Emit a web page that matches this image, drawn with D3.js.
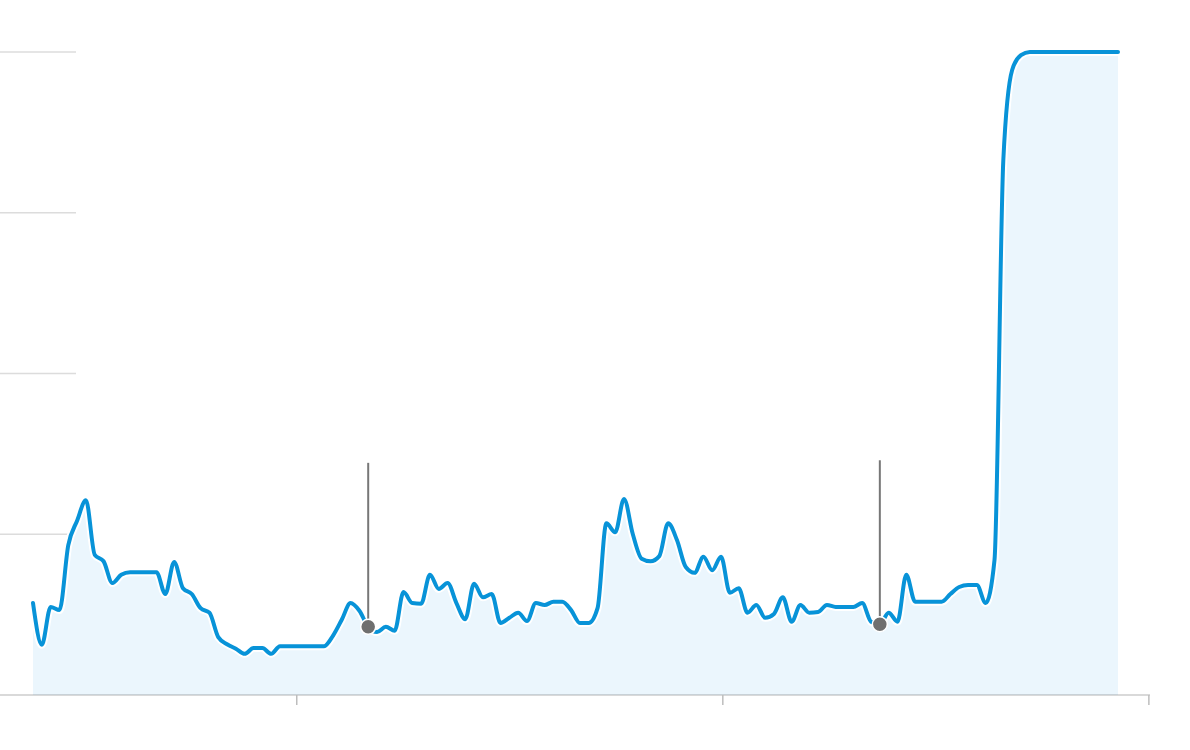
<!DOCTYPE html>
<html>
<head>
<meta charset="utf-8">
<script src="https://cdn.jsdelivr.net/npm/d3@7"></script>
<style>
  html, body { margin: 0; padding: 0; background: #fff; }
</style>
</head>
<body>
<div id="dataviz_interes"></div>
<script>

// ━━━━━━━━━━━━━━━━━━━━━━━━━━━━━━━━━━━━━━━━━━━━━━━━━━━━━━━━━━━━━━━━━━━━━━━━━━━━━━
// Datos ////////////////////////////////////////////////////////////////////////
// ━━━━━━━━━━━━━━━━━━━━━━━━━━━━━━━━━━━━━━━━━━━━━━━━━━━━━━━━━━━━━━━━━━━━━━━━━━━━━━

// interés relativo (0-100), un valor por período
const interes = [
  14.3, 7.8, 13.7, 13.2, 23.3, 27.1, 30.3, 21.8, 20.8, 17.4,
  18.7, 19.1, 19.1, 19.1, 19.1, 15.7, 20.7, 16.6, 15.7, 13.5,
  12.8, 9.0, 7.9, 7.2, 6.4, 7.3, 7.3, 6.4, 7.6, 7.6,
  7.6, 7.6, 7.6, 7.6, 9.2, 11.7, 14.3, 13.1, 10.6, 9.8,
  10.6, 10.0, 16.0, 14.3, 14.2, 18.7, 16.5, 17.4, 14.3, 11.8,
  17.3, 15.2, 15.7, 11.2, 12.0, 12.8, 11.5, 14.3, 14.0, 14.5,
  14.5, 13.2, 11.2, 11.2, 13.5, 26.7, 25.3, 30.5, 25.0, 21.2,
  20.8, 21.6, 26.7, 24.1, 19.9, 19.0, 21.5, 19.4, 21.5, 15.9,
  16.6, 12.8, 14.0, 12.0, 12.6, 15.2, 11.4, 14.0, 12.8, 12.9,
  14.0, 13.7, 13.7, 13.7, 14.3, 11.4, 11.0, 12.8, 11.4, 18.7,
  14.5, 14.5, 14.5, 14.5, 15.7, 16.8, 17.1, 17.1, 14.3, 21.0,
  83.2, 97.2, 99.5, 100, 100, 100, 100, 100, 100, 100,
  100, 100, 100, 100
];

const y_ticks = [25, 50, 75, 100];
const x_ticks = [29.9, 78.2, 126.5];   // posiciones (en períodos) de las marcas del eje
const notas = [38, 96];                // períodos con nota

const data = interes.map((v, i) => ({ i, v }));

// ━━━━━━━━━━━━━━━━━━━━━━━━━━━━━━━━━━━━━━━━━━━━━━━━━━━━━━━━━━━━━━━━━━━━━━━━━━━━━━
// SVG setup ////////////////////////////////////////////////////////////////////
// ━━━━━━━━━━━━━━━━━━━━━━━━━━━━━━━━━━━━━━━━━━━━━━━━━━━━━━━━━━━━━━━━━━━━━━━━━━━━━━

const width = 1190, height = 750;

const svg = d3.select('#dataviz_interes').append('svg')
  .attr('xmlns', 'http://www.w3.org/2000/svg')
  .attr('viewBox', [0, 0, width, height])
  .attr('width', width)
  .attr('height', height);

const     grid = svg.append('g').attr('id', 'grilla');
const     area = svg.append('g').attr('id', 'area');
const     axis = svg.append('g').attr('id', 'eje-x');
const    linea = svg.append('g').attr('id', 'linea');
const notas_g  = svg.append('g').attr('id', 'notas');

const x = d3.scaleLinear().domain([0, interes.length - 1]).range([33, 1118]);
const y = d3.scaleLinear().domain([0, 100]).range([695, 52]);

// ━━━━━━━━━━━━━━━━━━━━━━━━━━━━━━━━━━━━━━━━━━━━━━━━━━━━━━━━━━━━━━━━━━━━━━━━━━━━━━
// Grilla (líneas cortas a la izquierda) ////////////////////////////////////////
// ━━━━━━━━━━━━━━━━━━━━━━━━━━━━━━━━━━━━━━━━━━━━━━━━━━━━━━━━━━━━━━━━━━━━━━━━━━━━━━

grid.selectAll('line')
  .data(y_ticks)
  .join('line')
  .attr('x1', 0)
  .attr('x2', 76)
  .attr('y1', d => y(d))
  .attr('y2', d => y(d))
  .attr('stroke', '#dcdcdc')
  .attr('stroke-width', 1.5);

// ━━━━━━━━━━━━━━━━━━━━━━━━━━━━━━━━━━━━━━━━━━━━━━━━━━━━━━━━━━━━━━━━━━━━━━━━━━━━━━
// Área + línea /////////////////////////////////////////////////////////////////
// ━━━━━━━━━━━━━━━━━━━━━━━━━━━━━━━━━━━━━━━━━━━━━━━━━━━━━━━━━━━━━━━━━━━━━━━━━━━━━━

const areaGen = d3.area()
  .x(d => x(d.i))
  .y0(y(0))
  .y1(d => y(d.v))
  .curve(d3.curveMonotoneX);

const lineGen = d3.line()
  .x(d => x(d.i))
  .y(d => y(d.v))
  .curve(d3.curveMonotoneX);

area.append('path')
  .datum(data)
  .attr('d', areaGen)
  .attr('fill', '#ebf6fd');

// eje x
axis.append('line')
  .attr('x1', 0)
  .attr('x2', 1150)
  .attr('y1', y(0))
  .attr('y2', y(0))
  .attr('stroke', '#000')
  .attr('stroke-opacity', 0.15)
  .attr('stroke-width', 2);

axis.selectAll('.tick')
  .data(x_ticks)
  .join('line')
  .attr('class', 'tick')
  .attr('x1', d => x(d))
  .attr('x2', d => x(d))
  .attr('y1', y(0))
  .attr('y2', y(0) + 10)
  .attr('stroke', '#bdbdbd')
  .attr('stroke-width', 1.5);

// halo blanco y línea azul
linea.append('path')
  .datum(data)
  .attr('d', lineGen)
  .attr('fill', 'none')
  .attr('stroke', '#fff')
  .attr('stroke-width', 8)
  .attr('stroke-linejoin', 'round');

linea.append('path')
  .datum(data)
  .attr('d', lineGen)
  .attr('fill', 'none')
  .attr('stroke', '#0893d8')
  .attr('stroke-width', 4)
  .attr('stroke-linejoin', 'round')
  .attr('stroke-linecap', 'round');

// ━━━━━━━━━━━━━━━━━━━━━━━━━━━━━━━━━━━━━━━━━━━━━━━━━━━━━━━━━━━━━━━━━━━━━━━━━━━━━━
// Notas ////////////////////////////////////////////////////////////////////////
// ━━━━━━━━━━━━━━━━━━━━━━━━━━━━━━━━━━━━━━━━━━━━━━━━━━━━━━━━━━━━━━━━━━━━━━━━━━━━━━

const nota = notas_g.selectAll('g')
  .data(notas)
  .join('g')
  .attr('transform', d => `translate(${x(d).toFixed(2)},${y(interes[d]).toFixed(2)})`);

nota.append('line')
  .attr('x1', 0)
  .attr('x2', 0)
  .attr('y1', 0)
  .attr('y2', -164)
  .attr('stroke', '#777')
  .attr('stroke-width', 2);

nota.append('circle')
  .attr('r', 7.5)
  .attr('fill', '#6f6f6f')
  .attr('stroke', '#fff')
  .attr('stroke-width', 1.5);

</script>
</body>
</html>
